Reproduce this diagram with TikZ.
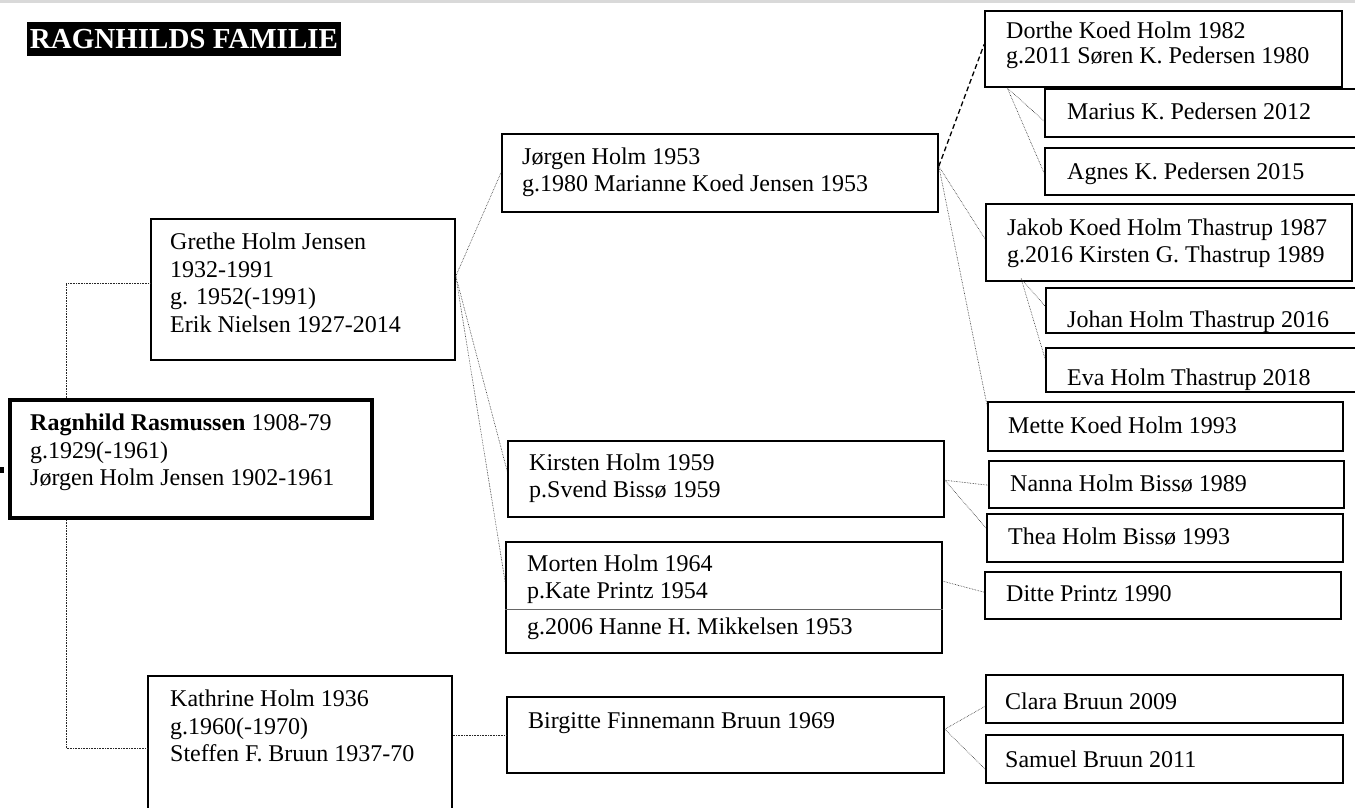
\documentclass[tikz,border=0pt]{standalone}
\usepackage{fontspec}
\setmainfont{Liberation Serif}
\usetikzlibrary{fit,calc}
\tikzset{
  famrect/.style={draw=black, line width=1.6pt, inner sep=0pt, rectangle},
  rootrect/.style={famrect, line width=4pt},
  lbl/.style={inner sep=0pt, align=left, anchor=west,
    font=\fontsize{24}{27.5}\selectfont,
    execute at begin node=\strut, execute at end node=\strut},
  link/.style={line width=0.6pt, densely dotted, black!85},
  marriage/.style={line width=1.3pt, dash pattern=on 5pt off 3pt},
}
\begin{document}
\begin{tikzpicture}[x=1pt,y=-1pt]
\fill[white] (0,0) rectangle (1355,807);
\useasboundingbox (0,0) rectangle (1355,807);
\fill[black!15] (0,0) rectangle (1355,3);
\node[fill=black, text=white, inner sep=0pt, minimum width=314pt, minimum height=34pt,
  font=\bfseries\fontsize{29}{32}\selectfont] (title) at (184,39) {RAGNHILDS FAMILIE};
\fill[black] (0,467) rectangle (4,473);

% boxes
\node[rootrect, fit={(10,400) (372,518)}] (ragnhild) {};
\node[famrect, fit={(151,219) (455,360)}] (grethe) {};
\node[famrect, fit={(148,676) (452,830)}] (kathrine) {};
\node[famrect, fit={(502,134) (938,212)}] (jorgen) {};
\node[famrect, fit={(508,441) (944,517)}] (kirsten) {};
\node[famrect, fit={(506,542) (942,653)}] (morten) {};
\node[famrect, fit={(507,697) (944,773)}] (birgitte) {};
\node[famrect, fit={(985,11) (1342,87)}] (dorthe) {};
\node[famrect, fit={(1045,89) (1362,137)}] (marius) {};
\node[famrect, fit={(1045,148) (1362,195)}] (agnes) {};
\node[famrect, fit={(986,204) (1352,281)}] (jakob) {};
\node[famrect, fit={(1046,288) (1362,333)}] (johan) {};
\node[famrect, fit={(1046,348) (1362,392)}] (eva) {};
\node[famrect, fit={(988,402) (1343,451)}] (mette) {};
\node[famrect, fit={(989,461) (1344,508)}] (nanna) {};
\node[famrect, fit={(987,514) (1343,562)}] (thea) {};
\node[famrect, fit={(985,572) (1341,619)}] (ditte) {};
\node[famrect, fit={(986,675) (1343,723)}] (clara) {};
\node[famrect, fit={(986,735) (1343,783)}] (samuel) {};
\draw[black!60, line width=1pt] ($(morten.north west)+(0,68)$) -- ($(morten.north east)+(0,68)$);

% fork points
\coordinate (gfork) at ($(grethe.north east)+(0,58)$);
\coordinate (jfork) at ($(jorgen.north east)+(0,33)$);
\coordinate (dfork) at ($(dorthe.south west)+(23,0)$);
\coordinate (kfork) at ($(jakob.south west)+(36,-3)$);
\coordinate (kifork) at ($(kirsten.north east)+(0,40)$);
\coordinate (mfork) at ($(morten.north east)+(0,40)$);
\coordinate (bfork) at ($(birgitte.north east)+(0,33)$);

% connectors
\draw[link] ($(ragnhild.north west)+(58,0)$) |- ($(grethe.north west)+(0,65)$);
\draw[link] ($(ragnhild.south west)+(58,0)$) |- ($(kathrine.north west)+(0,73)$);
\draw[link] (gfork) -- ($(jorgen.north west)+(0,39)$);
\draw[link] (gfork) -- ($(kirsten.north west)+(0,31)$);
\draw[link] (gfork) -- ($(morten.north west)+(0,41)$);
\draw[marriage] (jfork) -- ($(dorthe.north west)+(0,34)$);
\draw[link] (jfork) -- ($(jakob.north west)+(0,36)$);
\draw[link] (jfork) -- ($(mette.north west)+(0,5)$);
\draw[link] (dfork) -- ($(marius.north west)+(0,33)$);
\draw[link] (dfork) -- ($(agnes.north west)+(0,26)$);
\draw[link] (kfork) -- ($(johan.north west)+(0,19)$);
\draw[link] (kfork) -- ($(eva.north west)+(0,12)$);
\draw[link] (kifork) -- ($(nanna.north west)+(0,25)$);
\draw[link] (kifork) -- ($(thea.north west)+(0,15)$);
\draw[link] (mfork) -- ($(ditte.north west)+(0,21)$);
\draw[link] ($(kathrine.north east)+(0,60)$) -- ($(birgitte.north west)+(0,39)$);
\draw[link] (bfork) -- ($(clara.north west)+(0,32)$);
\draw[link] (bfork) -- ($(samuel.north west)+(0,35)$);

% texts
\node[lbl] (ragnhild-t) at (30,454) {\textbf{Ragnhild Rasmussen} 1908-79\\g.1929(-1961)\\Jørgen Holm Jensen 1902-1961};
\node[lbl] (grethe-t) at (170,287) {Grethe Holm Jensen\\1932-1991\\g. 1952(-1991)\\Erik Nielsen 1927-2014};
\node[lbl] (kathrine-t) at (170,730) {Kathrine Holm 1936\\g.1960(-1970)\\Steffen F. Bruun 1937-70};
\node[lbl] (jorgen-t) at (522,174) {Jørgen Holm 1953\\g.1980 Marianne Koed Jensen 1953};
\node[lbl] (kirsten-t) at (529,480) {Kirsten Holm 1959\\p.Svend Bissø 1959};
\node[lbl] (morten-t) at (527,581) {Morten Holm 1964\\p.Kate Printz 1954};
\node[lbl] (morten-t2) at (527,629) {g.2006 Hanne H. Mikkelsen 1953};
\node[lbl] (birgitte-t) at (528,723) {Birgitte Finnemann Bruun 1969};
\node[lbl, font=\fontsize{24}{25}\selectfont] (dorthe-t) at (1006,46) {Dorthe Koed Holm 1982\\g.2011 Søren K. Pedersen 1980};
\node[lbl] (marius-t) at (1067,114) {Marius K. Pedersen 2012};
\node[lbl] (agnes-t) at (1067,174) {Agnes K. Pedersen 2015};
\node[lbl] (jakob-t) at (1007,245) {Jakob Koed Holm Thastrup 1987\\g.2016 Kirsten G. Thastrup 1989};
\begin{scope}
  \clip (1046,288) rectangle (1362,333);
  \node[lbl, anchor=base west, execute at begin node={}, execute at end node={}] (johan-t) at (1067,327) {Johan Holm Thastrup 2016};
\end{scope}
\begin{scope}
  \clip (1046,348) rectangle (1362,392);
  \node[lbl, anchor=base west, execute at begin node={}, execute at end node={}] (eva-t) at (1067,385) {Eva Holm Thastrup 2018};
\end{scope}
\node[lbl] (mette-t) at (1008,428) {Mette Koed Holm 1993};
\node[lbl] (nanna-t) at (1010,486) {Nanna Holm Bissø 1989};
\node[lbl] (thea-t) at (1008,539) {Thea Holm Bissø 1993};
\node[lbl] (ditte-t) at (1006,596) {Ditte Printz 1990};
\node[lbl] (clara-t) at (1005,704) {Clara Bruun 2009};
\node[lbl] (samuel-t) at (1005,762) {Samuel Bruun 2011};
\end{tikzpicture}
\end{document}
